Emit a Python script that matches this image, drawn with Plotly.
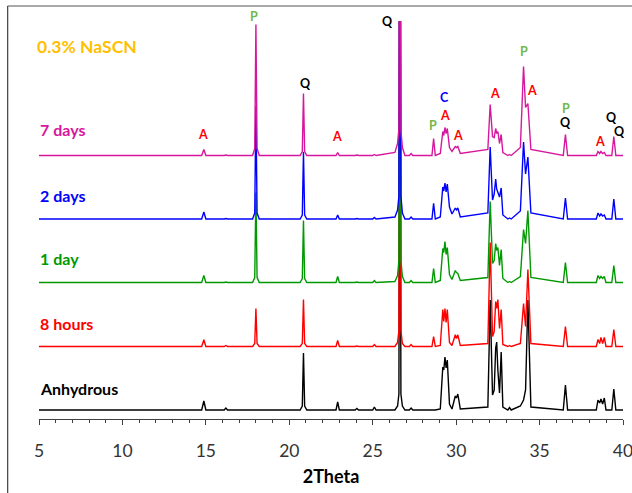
import plotly.graph_objects as go

# ---- data (2Theta vertices, intensities above each pattern's baseline) ----
two_theta = [
    5.0,
    14.75, 14.88, 15.0,
    16.1, 16.2, 16.3,
    17.8, 17.93, 18.0, 18.07, 18.2,
    20.65, 20.78, 20.85, 20.92, 21.05,
    22.8, 22.9, 23.0,
    23.95, 24.05, 24.15,
    25.0, 25.1, 25.2,
    26.33, 26.49, 26.57, 26.63, 26.69, 26.78, 26.93,
    27.2, 27.3, 27.4,
    28.55, 28.65, 28.75,
    29.05, 29.2, 29.26, 29.33, 29.4, 29.47, 29.6,
    29.75, 29.95, 30.02, 30.1, 30.25,
    31.9, 32.04, 32.18, 32.28, 32.37, 32.43, 32.5, 32.6, 32.7, 32.8,
    33.1, 33.2, 33.3,
    33.85, 34.04, 34.16, 34.3, 34.48,
    36.42, 36.55, 36.68,
    38.4, 38.5, 38.6, 38.68, 38.78, 38.88, 38.98,
    39.33, 39.45, 39.57,
    40.0,
]

anhydrous = [
    0,
    0, 9, 0,
    0, 2, 0,
    0, 0, 0, 0, 0,
    0, 4, 57, 4, 0,
    0, 8, 0,
    0, 1.5, 0,
    0, 3, 0,
    0, 4, 16, 500, 16, 4, 0,
    0, 2, 0,
    0, 0, 0,
    1, 43, 40, 53, 42, 50, 6,
    1, 14, 12, 16, 1,
    3, 110, 15, 20, 62, 68, 40, 17, 58, 3,
    0, 2.5, 0,
    4, 10, 20, 110, 3,
    0, 25, 0,
    0, 10, 7, 11, 6, 12, 0,
    0, 21, 0,
    0,
]

hours_8 = [
    0,
    0, 6.7, 0,
    0, 1, 0,
    0, 3, 38, 3, 0,
    0, 3, 47, 3, 0,
    0, 6, 0,
    0, 0.5, 0,
    0, 2, 0,
    0, 4, 16, 500, 16, 3, 0,
    0, 2, 0,
    0, 10, 0,
    1, 37, 25, 38, 24, 37, 4,
    1, 11.7, 8, 11.7, 1,
    3, 104, 10, 15, 45, 38, 47, 18, 37, 2,
    0, 1, 0,
    3, 43, 20, 77, 3,
    0, 20, 0,
    0, 7, 3, 9, 3, 9, 0,
    0, 17, 0,
    0,
]

day_1 = [
    0,
    0, 7, 0,
    0, 0.5, 0,
    0, 5, 90, 5, 0,
    0, 4, 62, 4, 0,
    0, 6, 0,
    0, 0.5, 0,
    0, 2, 0,
    1, 7, 22, 500, 22, 6, 0,
    0, 2, 0,
    0, 14, 0,
    2, 34, 30, 41, 28, 35, 8,
    3, 12, 10, 9, 2,
    5, 81, 19, 22, 39, 32, 35, 17, 33, 4,
    0, 1, 0,
    6, 53, 39, 72, 5,
    0, 20, 0,
    0, 7, 4, 6, 4, 6, 0,
    0, 17, 0,
    0,
]

days_2 = [
    0,
    0, 7, 0,
    0, 0.5, 0,
    0, 6, 113, 6, 0,
    0, 4, 67, 4, 0,
    0, 4, 0,
    0, 0.5, 0,
    0, 1.5, 0,
    2, 9, 23, 500, 23, 6, 0,
    0, 2, 0,
    0, 15.7, 0,
    2, 32, 28, 36, 27, 35, 12,
    5, 11, 9, 11, 2,
    6, 72, 19, 25, 40, 30, 26, 22, 31, 4,
    0, 1, 0,
    8, 77, 45, 62, 6,
    0, 21, 0,
    0, 6, 3, 5, 3, 4, 0,
    0, 20, 0,
    0,
]

days_7 = [
    0,
    0, 6, 0,
    0, 0.5, 0,
    0, 7, 131, 7, 0,
    0, 4, 62, 4, 0,
    0, 3, 0,
    0, 0.5, 0,
    0, 1, 0,
    3, 12, 27, 500, 25, 8, 0,
    0, 2, 0,
    0, 17, 0,
    2, 24, 20, 28, 22, 27, 8,
    4, 9, 8, 9, 2,
    6, 51, 19, 18, 27, 22, 24, 12, 21, 3,
    0, 1, 0,
    8, 89, 48, 52, 6,
    0, 21, 0,
    0, 4, 2, 4, 2, 3, 0,
    0, 19, 0,
    0,
]

series_names = ["Anhydrous", "8 hours", "1 day", "2 days", "7 days"]
series_values = [anhydrous, hours_8, day_1, days_2, days_7]

x_ticks = [5, 10, 15, 20, 25, 30, 35, 40]

# peak identification letters: (text, 2Theta, height on chart, colour key)
peak_labels = [
    ("P", 17.89, 402.3, "P"), ("Q", 20.95, 335.7, "Q"), ("A", 14.84, 284.7, "A"),
    ("A", 22.88, 282.3, "A"), ("Q", 25.90, 397.3, "Q"), ("P", 28.64, 294.0, "P"),
    ("C", 29.30, 321.7, "C"), ("A", 29.34, 303.3, "A"), ("A", 30.14, 284.0, "A"),
    ("A", 32.30, 325.0, "A"), ("P", 34.04, 367.3, "P"), ("A", 34.54, 329.0, "A"),
    ("P", 36.58, 310.7, "P"), ("Q", 36.58, 296.3, "Q"), ("A", 38.64, 277.3, "A"),
    ("Q", 39.34, 301.7, "Q"), ("Q", 39.80, 288.0, "Q"),
]

# ---- styling / layout ----
W, H = 632, 493
L, R, T, B = 39.3, 9.3, 21, 74
Y_MAX = H - T - B  # one unit per pixel
offsets = [9, 72.5, 136.5, 200, 263.5]
colors = ["#000000", "#FF0000", "#009900", "#0000FF", "#D6179E"]
label_y = [30.7, 95.7, 160.7, 224.0, 290.0]
letter_colors = {"A": "#FF0000", "P": "#72B84A", "Q": "#000000", "C": "#0000FF"}
FONT = "Lato, 'Open Sans', sans-serif"

fig = go.Figure()
for name, vals, off, col in zip(series_names, series_values, offsets, colors):
    fig.add_trace(go.Scatter(
        x=two_theta, y=[v + off for v in vals], mode="lines", name=name,
        line=dict(color=col, width=1.4), showlegend=False, hoverinfo="skip",
    ))

annotations = []
for name, col, ly in zip(series_names, colors, label_y):
    annotations.append(dict(
        x=5, y=ly, xref="x", yref="y", text=f"<b>{name}</b>", showarrow=False,
        xanchor="left", yanchor="middle", xshift=-1,
        font=dict(family=FONT, size=16, color=col),
    ))
annotations.append(dict(
    x=5, y=373, xref="x", yref="y", text="<b>0.3% NaSCN</b>", showarrow=False,
    xanchor="left", yanchor="middle", xshift=-4,
    font=dict(family=FONT, size=17.5, color="#FFC000"),
))
for txt, xx, yy, key in peak_labels:
    annotations.append(dict(
        x=xx, y=yy / Y_MAX, xref="x", yref="paper", text=f"<b>{txt}</b>",
        showarrow=False, xanchor="center", yanchor="middle",
        font=dict(family=FONT, size=12.5, color=letter_colors[key]),
    ))

plot_w = W - L - R
def px_x(p):
    return (p - L) / plot_w
def px_y(p):
    return (H - B - p) / Y_MAX

shapes = [
    dict(type="line", xref="paper", yref="paper", x0=px_x(8), x1=px_x(640),
         y0=px_y(6), y1=px_y(6), line=dict(color="#8C8C8C", width=1.5)),
    dict(type="line", xref="paper", yref="paper", x0=px_x(8), x1=px_x(8),
         y0=px_y(6), y1=px_y(500), line=dict(color="#404040", width=1.2)),
]

fig.update_layout(
    width=W, height=H, margin=dict(l=L, r=R, t=T, b=B, autoexpand=False),
    paper_bgcolor="white", plot_bgcolor="white",
    annotations=annotations, shapes=shapes,
    xaxis=dict(
        range=[5, 40], tickvals=x_ticks, ticktext=[str(t) for t in x_ticks],
        ticks="outside", ticklen=5, tickwidth=1, tickcolor="#404040",
        ticklabeloverflow="allow", ticklabelstandoff=11,
        minor=dict(dtick=1, ticks="outside", ticklen=3, tickwidth=1, tickcolor="#404040", showgrid=False),
        showline=True, linecolor="#404040", linewidth=1, showgrid=False, zeroline=False,
        tickfont=dict(family=FONT, size=17.5, color="#333333"),
        title=dict(text="<b>2Theta</b>", font=dict(family=FONT, size=18, color="#000000"), standoff=10),
    ),
    yaxis=dict(range=[0, Y_MAX], visible=False, fixedrange=True),
)

fig.write_html("out.html")
